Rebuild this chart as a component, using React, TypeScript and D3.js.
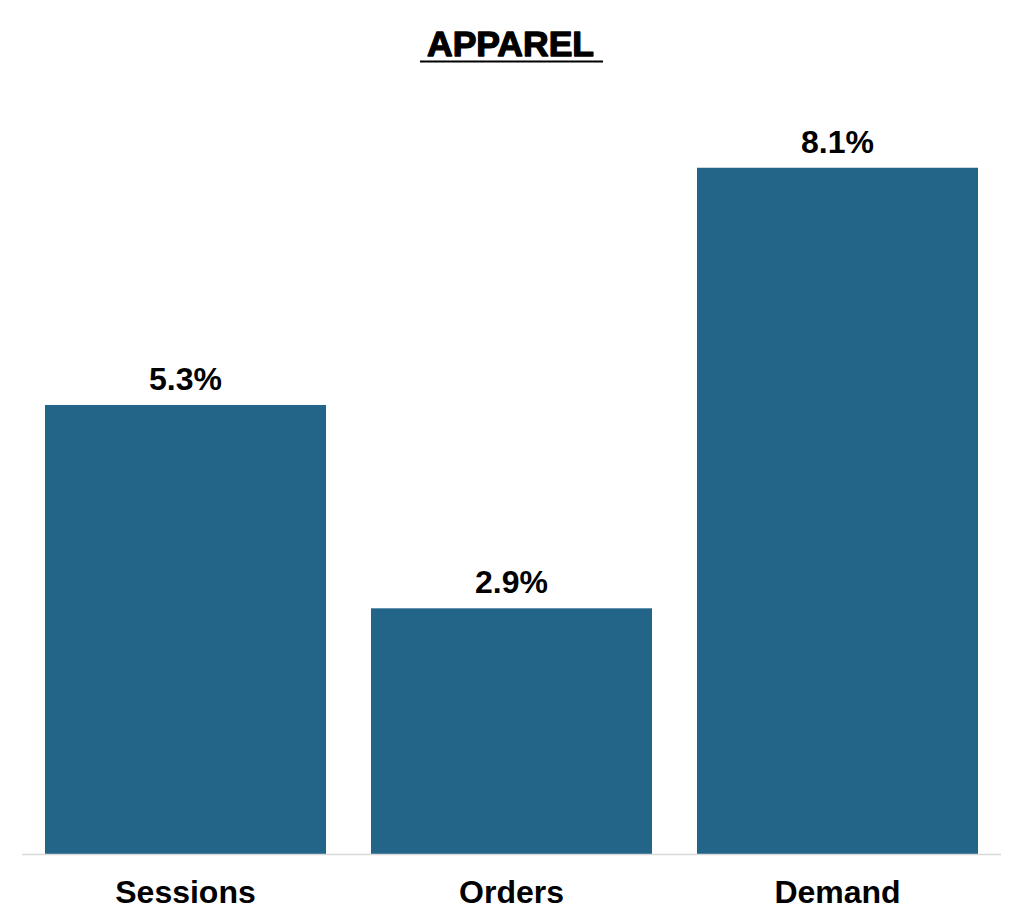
import * as d3 from "d3";
import { useEffect, useRef } from "react";

const categories = ["Sessions", "Orders", "Demand"];
const values = [5.3, 2.9, 8.1];
const valueLabels = ["5.3%", "2.9%", "8.1%"];
const title = "APPAREL";

const width = 1024;
const height = 924;
const font = "'Liberation Sans', Arial, sans-serif";

export default function App() {
	const ref = useRef<SVGSVGElement | null>(null);

	useEffect(() => {
		if (!ref.current) return;
		const svg = d3.select(ref.current);
		svg.selectAll("*").remove();

		const x = d3
			.scaleBand<string>()
			.domain(categories)
			.range([22.5, 1000.5])
			.paddingInner(0.138)
			.paddingOuter(0.069);
		const y = d3.scaleLinear().domain([0, 9]).range([854, 91.5]);

		svg
			.append("rect")
			.attr("width", width)
			.attr("height", height)
			.attr("fill", "#ffffff");

		// title, drawn heavier than plain bold, with underline
		const t = svg
			.append("text")
			.attr("x", 510.5)
			.attr("y", 56)
			.attr("text-anchor", "middle")
			.attr("font-family", font)
			.attr("font-weight", "bold")
			.attr("font-size", 35.5)
			.attr("fill", "#000")
			.attr("stroke", "#000")
			.attr("stroke-width", 1.3)
			.attr("stroke-linejoin", "round")
			.text(title);
		const bb = (t.node() as SVGTextElement).getBBox();
		svg
			.append("line")
			.attr("x1", bb.x - 7)
			.attr("x2", bb.x + bb.width + 9)
			.attr("y1", 61.5)
			.attr("y2", 61.5)
			.attr("stroke", "#000")
			.attr("stroke-width", 2.2);

		svg
			.append("g")
			.selectAll("rect")
			.data(values)
			.join("rect")
			.attr("x", (_, i) => x(categories[i]) ?? 0)
			.attr("width", x.bandwidth())
			.attr("y", (d) => y(d))
			.attr("height", (d) => y(0) - y(d))
			.attr("fill", "#236588");

		svg
			.append("line")
			.attr("x1", 22)
			.attr("x2", 1001)
			.attr("y1", y(0) + 0.5)
			.attr("y2", y(0) + 0.5)
			.attr("stroke", "#d9d9d9")
			.attr("stroke-width", 1.5);

		svg
			.append("g")
			.selectAll("text")
			.data(values)
			.join("text")
			.attr("x", (_, i) => (x(categories[i]) ?? 0) + x.bandwidth() / 2)
			.attr("y", (d) => y(d) - 15)
			.attr("text-anchor", "middle")
			.attr("font-family", font)
			.attr("font-weight", "bold")
			.attr("font-size", 32)
			.attr("fill", "#000")
			.text((_, i) => valueLabels[i]);

		svg
			.append("g")
			.selectAll("text")
			.data(categories)
			.join("text")
			.attr("x", (d) => (x(d) ?? 0) + x.bandwidth() / 2)
			.attr("y", 903)
			.attr("text-anchor", "middle")
			.attr("font-family", font)
			.attr("font-weight", "bold")
			.attr("font-size", 32)
			.attr("fill", "#000")
			.text((d) => d);
	}, []);

	return (
		<svg
			ref={ref}
			width={width}
			height={height}
			style={{ position: "absolute", left: 0, top: 0, display: "block" }}
		></svg>
	);
}
